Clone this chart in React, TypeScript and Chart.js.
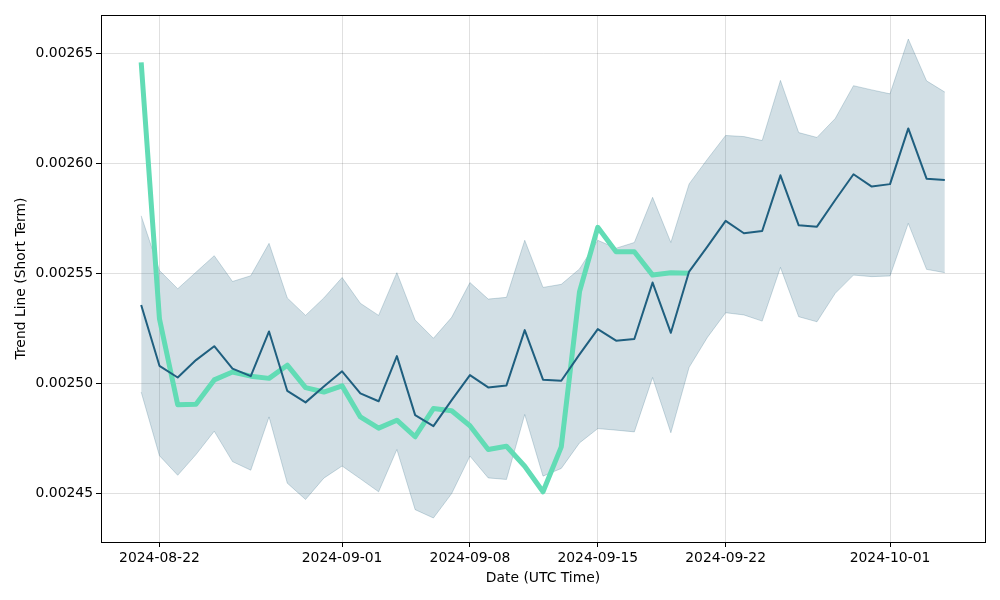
import React, { useEffect, useRef } from "react";
import { Chart, registerables } from "chart.js";

Chart.register(...registerables);

const dates = [
  "2024-08-21", "2024-08-22", "2024-08-23", "2024-08-24", "2024-08-25", "2024-08-26", "2024-08-27",
  "2024-08-28", "2024-08-29", "2024-08-30", "2024-08-31", "2024-09-01", "2024-09-02", "2024-09-03",
  "2024-09-04", "2024-09-05", "2024-09-06", "2024-09-07", "2024-09-08", "2024-09-09", "2024-09-10",
  "2024-09-11", "2024-09-12", "2024-09-13", "2024-09-14", "2024-09-15", "2024-09-16", "2024-09-17",
  "2024-09-18", "2024-09-19", "2024-09-20", "2024-09-21", "2024-09-22", "2024-09-23", "2024-09-24",
  "2024-09-25", "2024-09-26", "2024-09-27", "2024-09-28", "2024-09-29", "2024-09-30", "2024-10-01",
  "2024-10-02", "2024-10-03", "2024-10-04",
];

const trendShort = [
  0.0026458, 0.0025294, 0.0024903, 0.0024906, 0.0025016, 0.0025052, 0.0025033, 0.0025023, 0.0025083,
  0.0024981, 0.0024961, 0.0024989, 0.0024848, 0.0024797, 0.0024833, 0.0024758, 0.0024886, 0.0024876,
  0.0024808, 0.00247, 0.0024715, 0.0024624, 0.0024508, 0.0024712, 0.0025417, 0.0025709, 0.0025598,
  0.0025598, 0.0025492, 0.0025503, 0.00255,
  null, null, null, null, null, null, null, null, null, null, null, null, null, null,
];

const center = [
  0.0025356, 0.002508, 0.0025027, 0.0025106, 0.0025169, 0.0025067, 0.0025033, 0.0025236, 0.0024966,
  0.0024914, 0.0024986, 0.0025055, 0.0024955, 0.0024919, 0.0025124, 0.0024856, 0.0024806, 0.0024924,
  0.0025038, 0.0024982, 0.0024991, 0.0025242, 0.0025017, 0.0025012, 0.0025132, 0.0025247, 0.0025194,
  0.0025202, 0.0025458, 0.002523, 0.0025508, 0.0025621, 0.0025738, 0.0025682, 0.0025692, 0.0025945,
  0.0025718, 0.0025712, 0.0025833, 0.002595, 0.0025894, 0.0025905, 0.0026158, 0.002593, 0.0025924,
];

const upper = [
  0.0025761, 0.0025513, 0.002543, 0.0025505, 0.002558, 0.0025463, 0.0025489, 0.0025636, 0.0025388,
  0.0025309, 0.0025388, 0.0025481, 0.0025364, 0.0025309, 0.0025503, 0.0025288, 0.0025205, 0.00253,
  0.0025458, 0.0025383, 0.0025391, 0.002565, 0.0025436, 0.002545, 0.002552, 0.002565, 0.0025614,
  0.002564, 0.0025845, 0.002564, 0.0025906, 0.0026018, 0.0026126, 0.0026121, 0.0026103, 0.0026376,
  0.0026139, 0.0026117, 0.0026203, 0.0026352, 0.0026333, 0.0026315, 0.0026564, 0.0026374, 0.0026323,
];

const lower = [
  0.0024961, 0.0024672, 0.0024583, 0.0024677, 0.0024783, 0.0024645, 0.0024606, 0.0024848, 0.0024547,
  0.0024473, 0.002457, 0.0024625, 0.0024567, 0.0024508, 0.00247, 0.0024427, 0.0024389, 0.00245,
  0.002467, 0.0024571, 0.0024564, 0.0024859, 0.0024579, 0.0024614, 0.002473, 0.0024795, 0.0024788,
  0.002478, 0.0025027, 0.0024776, 0.0025073, 0.0025209, 0.0025321, 0.0025311, 0.0025283, 0.0025527,
  0.0025303, 0.002528, 0.0025409, 0.0025492, 0.0025485, 0.0025488, 0.0025727, 0.0025518, 0.0025503,
];

const xTickLabels = ["2024-08-22", "2024-09-01", "2024-09-08", "2024-09-15", "2024-09-22", "2024-10-01"];
const yTickValues = [0.00245, 0.0025, 0.00255, 0.0026, 0.00265];

const DAY = 86400000;
const t0 = Date.parse(dates[0]);
const dayOf = (s: string) => (Date.parse(s) - t0) / DAY;

export default function App() {
  const ref = useRef<HTMLCanvasElement | null>(null);

  useEffect(() => {
    if (!ref.current) return;
    const pts = (arr: (number | null)[]) => dates.map((d, i) => ({ x: dayOf(d), y: arr[i] }));
    const span = dayOf(dates[dates.length - 1]) - dayOf(dates[0]);
    const font = { family: "'DejaVu Sans', sans-serif", size: 13.9 };

    const frame = {
      id: "frame",
      afterDraw(chart: any) {
        const { ctx, chartArea: a } = chart;
        ctx.save();
        ctx.strokeStyle = "#000";
        ctx.lineWidth = 1;
        ctx.strokeRect(Math.round(a.left) + 0.5, Math.round(a.top) + 0.5, Math.round(a.right - a.left), Math.round(a.bottom - a.top));
        ctx.restore();
      },
    };

    const chart = new Chart(ref.current, {
      type: "line",
      data: {
        datasets: [
          {
            label: "upper",
            data: pts(upper),
            borderColor: "rgba(31,95,125,0.22)",
            borderWidth: 1,
            backgroundColor: "rgba(31,95,125,0.2)",
            fill: "+1",
            pointRadius: 0,
            tension: 0,
            order: 3,
          },
          {
            label: "lower",
            data: pts(lower),
            borderColor: "rgba(31,95,125,0.22)",
            borderWidth: 1,
            fill: false,
            pointRadius: 0,
            tension: 0,
            order: 4,
          },
          {
            label: "Trend Line (Short Term)",
            data: pts(trendShort),
            borderColor: "#62dcb5",
            borderWidth: 5,
            borderJoinStyle: "round",
            borderCapStyle: "butt",
            fill: false,
            pointRadius: 0,
            tension: 0,
            order: 2,
          },
          {
            label: "center",
            data: pts(center),
            borderColor: "#1f5f7f",
            borderWidth: 2,
            borderJoinStyle: "round",
            fill: false,
            pointRadius: 0,
            tension: 0,
            order: 1,
          },
        ],
      },
      options: {
        animation: false,
        responsive: false,
        events: [],
        layout: { padding: { left: 0, top: 15, right: 15, bottom: 0 } },
        plugins: { legend: { display: false }, tooltip: { enabled: false } },
        scales: {
          x: {
            type: "linear",
            min: -span * 0.05,
            max: span * 1.05,
            afterFit: (s: any) => {
              s.height = 58;
            },
            afterBuildTicks: (s: any) => {
              s.ticks = xTickLabels.map((l) => ({ value: dayOf(l) }));
            },
            ticks: {
              autoSkip: false,
              maxRotation: 0,
              padding: 3,
              color: "#000",
              font,
              callback: (_v: any, i: number) => xTickLabels[i],
            },
            grid: { color: "rgba(0,0,0,0.12)", tickColor: "#000", tickLength: 5, lineWidth: 1 },
            border: { display: true, color: "#000", width: 1 },
            title: { display: true, text: "Date (UTC Time)", color: "#000", font, padding: { top: 0, bottom: 13.5 } },
          },
          y: {
            type: "linear",
            min: 0.002428,
            max: 0.0026673,
            afterFit: (s: any) => {
              s.width = 101;
            },
            afterBuildTicks: (s: any) => {
              s.ticks = yTickValues.map((v) => ({ value: v }));
            },
            ticks: {
              padding: 3,
              color: "#000",
              font,
              callback: (v: any) => Number(v).toFixed(5),
            },
            grid: { color: "rgba(0,0,0,0.12)", tickColor: "#000", tickLength: 5, lineWidth: 1 },
            border: { display: true, color: "#000", width: 1 },
            title: { display: true, text: "Trend Line (Short Term)", color: "#000", font, padding: { top: 13, bottom: 0 } },
          },
        },
      },
      plugins: [frame],
    } as any);

    return () => chart.destroy();
  }, []);

  return (
    <div style={{ position: "fixed", left: 0, top: 0, width: 1000, height: 600, background: "#fff" }}>
      <canvas ref={ref} width={1000} height={600} style={{ display: "block" }} />
    </div>
  );
}
